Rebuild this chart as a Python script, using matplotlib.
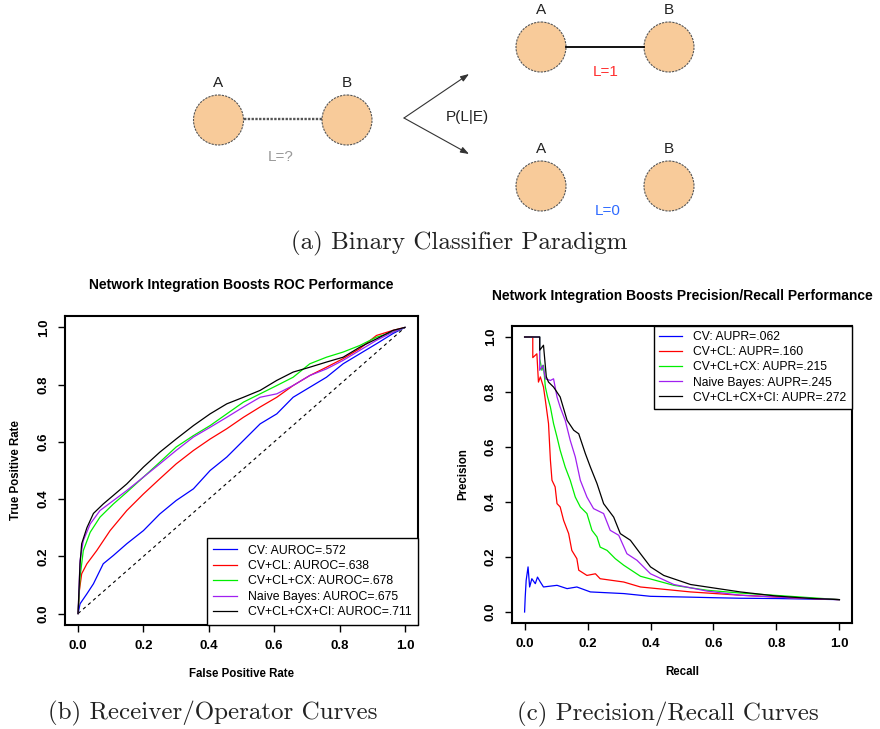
import matplotlib
matplotlib.use("Agg")
import matplotlib.pyplot as plt
from matplotlib.patches import Circle

# ---- ROC curves (false positive rate, true positive rate) ----
roc_labels = ["CV: AUROC=.572", "CV+CL: AUROC=.638", "CV+CL+CX: AUROC=.678",
              "Naive Bayes: AUROC=.675", "CV+CL+CX+CI: AUROC=.711"]
colors = ["blue", "red", "#00ee00", "#a020f0", "black"]

roc_cv_x = [0, 0.006, 0.027, 0.047, 0.077, 0.108, 0.149, 0.2, 0.25, 0.30, 0.353, 0.404, 0.455,
            0.506, 0.557, 0.608, 0.658, 0.709, 0.76, 0.811, 0.862, 0.913, 0.964, 1]
roc_cv_y = [0, 0.034, 0.069, 0.104, 0.174, 0.203, 0.244, 0.29, 0.348, 0.395, 0.436, 0.5, 0.547,
            0.605, 0.663, 0.698, 0.756, 0.791, 0.826, 0.873, 0.908, 0.943, 0.979, 1]
roc_cl_x = [0, 0.004, 0.011, 0.027, 0.057, 0.098, 0.149, 0.2, 0.25, 0.30, 0.353, 0.404, 0.455,
            0.506, 0.557, 0.608, 0.658, 0.709, 0.76, 0.811, 0.862, 0.913, 0.964, 1]
roc_cl_y = [0, 0.08, 0.139, 0.174, 0.22, 0.29, 0.36, 0.418, 0.471, 0.523, 0.57, 0.61, 0.646,
            0.686, 0.722, 0.756, 0.797, 0.832, 0.861, 0.891, 0.926, 0.972, 0.99, 1]
roc_cx_x = [0, 0.006, 0.016, 0.037, 0.067, 0.108, 0.149, 0.2, 0.25, 0.30, 0.353, 0.404, 0.455,
            0.506, 0.557, 0.608, 0.658, 0.709, 0.76, 0.811, 0.862, 0.913, 0.964, 1]
roc_cx_y = [0, 0.127, 0.22, 0.284, 0.337, 0.383, 0.424, 0.477, 0.529, 0.582, 0.622, 0.657, 0.698,
            0.739, 0.768, 0.797, 0.826, 0.873, 0.896, 0.914, 0.937, 0.966, 0.984, 1]
roc_nb_x = [0, 0.006, 0.016, 0.037, 0.067, 0.108, 0.149, 0.2, 0.25, 0.30, 0.353, 0.404, 0.455,
            0.506, 0.557, 0.608, 0.658, 0.709, 0.76, 0.811, 0.862, 0.913, 0.964, 1]
roc_nb_y = [0, 0.185, 0.255, 0.313, 0.36, 0.395, 0.43, 0.477, 0.523, 0.57, 0.617, 0.651, 0.686,
            0.722, 0.756, 0.768, 0.797, 0.832, 0.855, 0.885, 0.92, 0.955, 0.984, 1]
roc_ci_x = [0, 0.006, 0.011, 0.027, 0.047, 0.077, 0.108, 0.149, 0.2, 0.25, 0.30, 0.353, 0.404,
            0.455, 0.506, 0.557, 0.608, 0.658, 0.709, 0.76, 0.811, 0.862, 0.913, 0.964, 1]
roc_ci_y = [0, 0.174, 0.244, 0.30, 0.35, 0.383, 0.413, 0.453, 0.512, 0.564, 0.61, 0.657, 0.698,
            0.733, 0.756, 0.78, 0.815, 0.844, 0.861, 0.879, 0.896, 0.931, 0.96, 0.99, 1]

# ---- Precision / recall curves (recall, precision) ----
pr_labels = ["CV: AUPR=.062", "CV+CL: AUPR=.160", "CV+CL+CX: AUPR=.215",
             "Naive Bayes: AUPR=.245", "CV+CL+CX+CI: AUPR=.272"]

pr_cv_x = [0, 0.002, 0.005, 0.011, 0.016, 0.023, 0.034, 0.041, 0.05, 0.06, 0.103, 0.135, 0.166,
           0.209, 0.315, 0.4, 0.527, 0.6, 0.685, 0.8, 1]
pr_cv_y = [0, 0.055, 0.115, 0.164, 0.091, 0.121, 0.103, 0.127, 0.109, 0.091, 0.097, 0.085, 0.091,
           0.073, 0.067, 0.057, 0.054, 0.052, 0.050, 0.049, 0.045]
pr_cl_x = [0, 0.026, 0.026, 0.039, 0.044, 0.05, 0.06, 0.066, 0.076, 0.082, 0.087, 0.097, 0.103,
           0.113, 0.124, 0.14, 0.15, 0.166, 0.172, 0.198, 0.225, 0.24, 0.315, 0.368, 0.527, 0.685,
           0.844, 1]
pr_cl_y = [1.0, 1.0, 0.925, 0.939, 0.836, 0.855, 0.818, 0.77, 0.685, 0.552, 0.479, 0.455, 0.394,
           0.382, 0.333, 0.285, 0.224, 0.194, 0.152, 0.133, 0.139, 0.121, 0.109, 0.091, 0.073, 0.061,
           0.052, 0.045]
pr_cx_x = [0, 0.048, 0.048, 0.055, 0.06, 0.066, 0.073, 0.082, 0.092, 0.103, 0.113, 0.129, 0.145,
           0.161, 0.177, 0.198, 0.214, 0.23, 0.24, 0.262, 0.288, 0.315, 0.368, 0.474, 0.58, 0.685,
           0.844, 1]
pr_cx_y = [1.0, 1.0, 0.921, 0.879, 0.897, 0.818, 0.782, 0.745, 0.685, 0.636, 0.588, 0.527, 0.479,
           0.418, 0.382, 0.358, 0.297, 0.273, 0.236, 0.224, 0.194, 0.17, 0.13, 0.097, 0.079, 0.069,
           0.057, 0.045]
pr_nb_x = [0, 0.048, 0.048, 0.058, 0.066, 0.082, 0.092, 0.103, 0.113, 0.129, 0.145, 0.161, 0.177,
           0.198, 0.219, 0.251, 0.272, 0.299, 0.325, 0.357, 0.4, 0.474, 0.58, 0.685, 0.844, 1]
pr_nb_y = [1.0, 1.0, 0.879, 0.897, 0.848, 0.842, 0.848, 0.782, 0.745, 0.697, 0.624, 0.564, 0.479,
           0.418, 0.376, 0.358, 0.297, 0.279, 0.212, 0.188, 0.139, 0.1, 0.076, 0.061, 0.052, 0.045]
pr_ci_x = [0, 0.048, 0.048, 0.06, 0.069, 0.076, 0.092, 0.113, 0.135, 0.156, 0.172, 0.193, 0.209,
           0.23, 0.251, 0.283, 0.304, 0.336, 0.368, 0.4, 0.442, 0.527, 0.685, 0.8, 0.9, 1]
pr_ci_y = [1.0, 1.0, 0.952, 0.97, 0.855, 0.836, 0.818, 0.782, 0.697, 0.661, 0.648, 0.576, 0.527,
           0.467, 0.394, 0.345, 0.285, 0.261, 0.212, 0.164, 0.133, 0.1, 0.073, 0.058, 0.05, 0.045]

roc_x = [roc_cv_x, roc_cl_x, roc_cx_x, roc_nb_x, roc_ci_x]
roc_y = [roc_cv_y, roc_cl_y, roc_cx_y, roc_nb_y, roc_ci_y]
pr_x = [pr_cv_x, pr_cl_x, pr_cx_x, pr_nb_x, pr_ci_x]
pr_y = [pr_cv_y, pr_cl_y, pr_cx_y, pr_nb_y, pr_ci_y]

ticks = [0.0, 0.2, 0.4, 0.6, 0.8, 1.0]
tick_labels = ["0.0", "0.2", "0.4", "0.6", "0.8", "1.0"]

W, H = 880, 729
SANS = ["Liberation Sans", "DejaVu Sans"]
plt.rcParams['font.family'] = SANS

fig = plt.figure(figsize=(W / 100, H / 100), dpi=100)


def px_rect(left, top, right, bottom):
    return [left / W, 1 - bottom / H, (right - left) / W, (bottom - top) / H]


# ---- (a) diagram, drawn in pixel units ----
dg = fig.add_axes(px_rect(0, 0, W, 230))
dg.set_xlim(0, W)
dg.set_ylim(230, 0)
dg.axis("off")

node_fill = "#f8cb9a"
nodes = [(218.5, 120), (347, 120), (541, 47), (669, 47), (541, 186), (669, 186)]
dg.plot([244, 322], [119, 119], color="#555555", lw=1.7, ls=(0, (1, 0.6)))
dg.plot([566, 644], [47, 47], color="black", lw=1.3)
for cx, cy in nodes:
    dg.add_patch(Circle((cx, cy), 25, facecolor=node_fill, edgecolor="#555555",
                        lw=0.8, ls=(0, (2, 1))))
for cx, cy in nodes:
    dg.text(cx, cy - 37, "A" if cx in (218.5, 541) else "B", ha="center", va="center",
            fontsize=11, color="#222222")
dg.text(281, 157, "L=?", color="#999999", fontsize=11, ha="center", va="center")
dg.text(606, 72, "L=1", color="#ff3030", fontsize=11, ha="center", va="center")
dg.text(608, 211, "L=0", color="#2f6bff", fontsize=11, ha="center", va="center")
dg.text(467, 117, "P(L|E)", color="#222222", fontsize=11, ha="center", va="center")
for ty in (74, 154):
    dg.annotate("", xy=(469, ty), xytext=(404, 118),
                arrowprops=dict(arrowstyle="-|>,head_length=0.5,head_width=0.18",
                                lw=0.8, color="#333333", shrinkA=0, shrinkB=0))


def style_axes(ax, xlabel, ylabel):
    ax.set_xlim(-0.04, 1.04)
    ax.set_ylim(-0.04, 1.04)
    ax.set_xticks(ticks)
    ax.set_yticks(ticks)
    ax.set_xticklabels(tick_labels, fontweight="bold", fontsize=9.5)
    ax.set_yticklabels(tick_labels, fontweight="bold", fontsize=9.5, rotation=90, va="center")
    ax.tick_params(direction="out", length=5, width=1, pad=6)
    for s in ax.spines.values():
        s.set_linewidth(1.5)
    ax.set_xlabel(xlabel, fontweight="bold", fontsize=8.3, labelpad=11)
    ax.set_ylabel(ylabel, fontweight="bold", fontsize=8.3, labelpad=11)


# ---- (b) ROC ----
ax1 = fig.add_axes(px_rect(65, 316, 418, 625))
ax1.plot([0, 1], [0, 1], color="black", lw=0.8, ls=(0, (3, 3)))
for xs, ys, c, lab in zip(roc_x, roc_y, colors, roc_labels):
    ax1.plot(xs, ys, color=c, lw=0.9, label=lab)
style_axes(ax1, "False Positive Rate", "True Positive Rate")
leg1 = ax1.legend(loc="lower right", borderaxespad=0, fancybox=False, framealpha=1,
                  edgecolor="black", fontsize=8.8, handlelength=1.9, handletextpad=0.9,
                  labelspacing=0.28, borderpad=0.55)
leg1.get_frame().set_linewidth(1.0)

# ---- (c) precision / recall ----
ax2 = fig.add_axes(px_rect(512, 326, 852, 623))
for xs, ys, c, lab in zip(pr_x, pr_y, colors, pr_labels):
    ax2.plot(xs, ys, color=c, lw=0.9, label=lab)
style_axes(ax2, "Recall", "Precision")
leg2 = ax2.legend(loc="upper right", borderaxespad=0, fancybox=False, framealpha=1,
                  edgecolor="black", fontsize=8.7, handlelength=1.9, handletextpad=0.9,
                  labelspacing=0.25, borderpad=0.45)
leg2.get_frame().set_linewidth(1.0)

fig.text(241 / W, 1 - 285 / H, "Network Integration Boosts ROC Performance",
         fontweight="bold", fontsize=10, ha="center", va="center")
fig.text(682 / W, 1 - 296 / H, "Network Integration Boosts Precision/Recall Performance",
         fontweight="bold", fontsize=10, ha="center", va="center")

cap = dict(family="cmr10", fontsize=18, ha="center", va="center", color="#222222")
fig.text(459 / W, 1 - 243 / H, "(a) Binary Classifier Paradigm", **cap)
fig.text(213 / W, 1 - 713 / H, "(b) Receiver/Operator Curves", **cap)
fig.text(668 / W, 1 - 714 / H, "(c) Precision/Recall Curves", **cap)

fig.savefig("out.png", dpi=100)
